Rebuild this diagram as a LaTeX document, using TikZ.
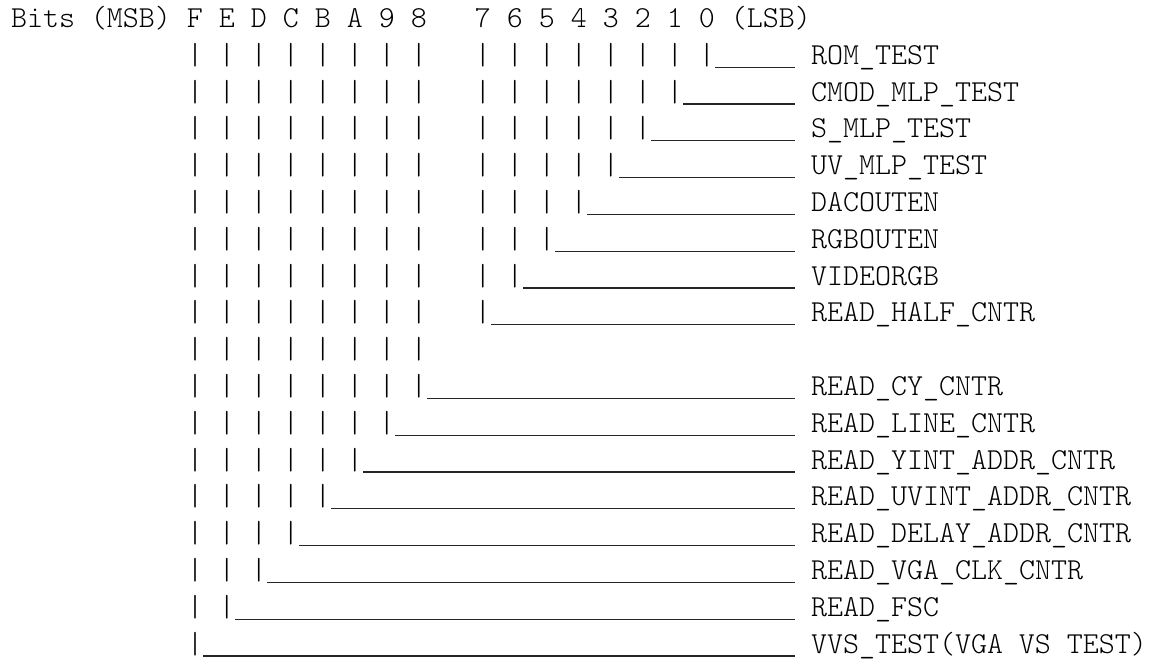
\documentclass[tikz,border=0pt]{standalone}
\usepackage{fontspec}
\setmonofont{lmmonolt10-regular.otf}
\usepackage{tikz}

\newcommand\hibits{|~|~|~|~|~|~|~|}

\begin{document}
\begin{tikzpicture}[x=6pt, y=-13.8pt,
    ascii/.style={anchor=base west, inner sep=0pt, outer sep=0pt, font=\fontsize{11.4286}{13.8}\selectfont\ttfamily},
    sig/.style={ascii},
    lead/.style={line width=0.5pt, black!85}
]
\useasboundingbox (-0.6875,-0.746) rectangle (71.5,17.243);

\node[ascii] (head) at (0,0) {Bits~(MSB)~F~E~D~C~B~A~9~8~~~7~6~5~4~3~2~1~0~(LSB)};

\node[ascii] (r1) at (11,1) {\hibits~~~|~|~|~|~|~|~|~|};
\node[ascii] (r2) at (11,2) {\hibits~~~|~|~|~|~|~|~|};
\node[ascii] (r3) at (11,3) {\hibits~~~|~|~|~|~|~|};
\node[ascii] (r4) at (11,4) {\hibits~~~|~|~|~|~|};
\node[ascii] (r5) at (11,5) {\hibits~~~|~|~|~|};
\node[ascii] (r6) at (11,6) {\hibits~~~|~|~|};
\node[ascii] (r7) at (11,7) {\hibits~~~|~|};
\node[ascii] (r8) at (11,8) {\hibits~~~|};
\node[ascii] (r9) at (11,9) {\hibits};
\node[ascii] (r10) at (11,10) {|~|~|~|~|~|~|~|};
\node[ascii] (r11) at (11,11) {|~|~|~|~|~|~|};
\node[ascii] (r12) at (11,12) {|~|~|~|~|~|};
\node[ascii] (r13) at (11,13) {|~|~|~|~|};
\node[ascii] (r14) at (11,14) {|~|~|~|};
\node[ascii] (r15) at (11,15) {|~|~|};
\node[ascii] (r16) at (11,16) {|~|};
\node[ascii] (r17) at (11,17) {|};

\node[sig] (rom) at (50,1) {ROM\_TEST};
\node[sig] (cmod) at (50,2) {CMOD\_MLP\_TEST};
\node[sig] (smlp) at (50,3) {S\_MLP\_TEST};
\node[sig] (uvmlp) at (50,4) {UV\_MLP\_TEST};
\node[sig] (dac) at (50,5) {DACOUTEN};
\node[sig] (rgb) at (50,6) {RGBOUTEN};
\node[sig] (video) at (50,7) {VIDEORGB};
\node[sig] (half) at (50,8) {READ\_HALF\_CNTR};
\node[sig] (cy) at (50,10) {READ\_CY\_CNTR};
\node[sig] (line) at (50,11) {READ\_LINE\_CNTR};
\node[sig] (yint) at (50,12) {READ\_YINT\_ADDR\_CNTR};
\node[sig] (uvint) at (50,13) {READ\_UVINT\_ADDR\_CNTR};
\node[sig] (delay) at (50,14) {READ\_DELAY\_ADDR\_CNTR};
\node[sig] (vgaclk) at (50,15) {READ\_VGA\_CLK\_CNTR};
\node[sig] (fsc) at (50,16) {READ\_FSC};
\node[sig] (vvs) at (50,17) {VVS\_TEST(VGA~VS~TEST)};

\foreach \r/\s in {r1/rom, r2/cmod, r3/smlp, r4/uvmlp, r5/dac, r6/rgb, r7/video, r8/half,
    r10/cy, r11/line, r12/yint, r13/uvint, r14/delay, r15/vgaclk, r16/fsc, r17/vvs}
  \draw[lead] ([yshift=-1.1pt]\r.base east) -- ([xshift=-6pt,yshift=-1.1pt]\s.base west);
\end{tikzpicture}
\end{document}
